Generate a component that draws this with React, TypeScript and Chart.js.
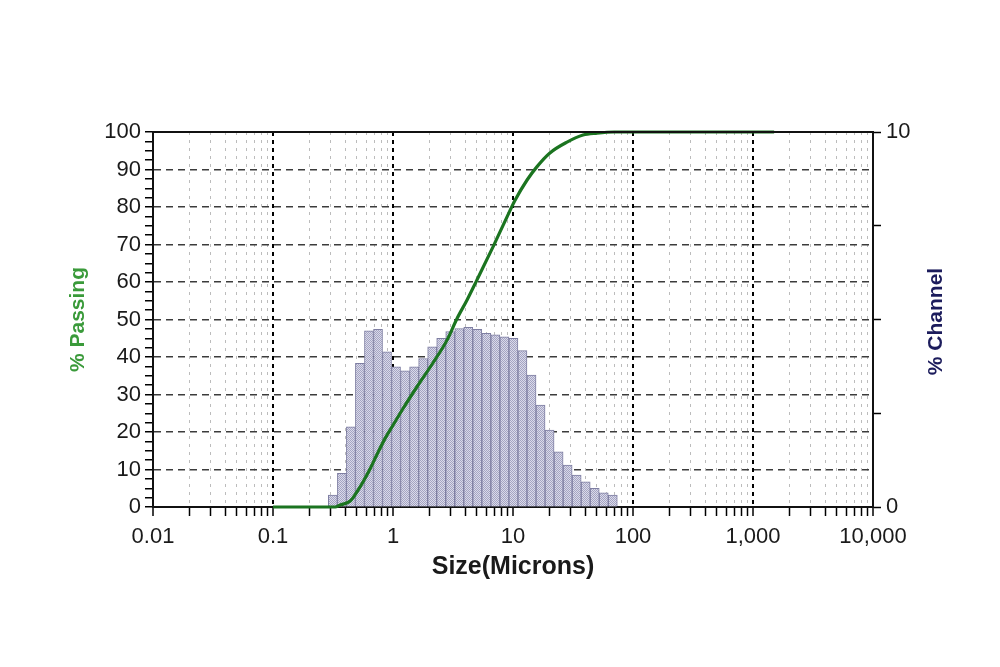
import React, { useEffect, useRef } from 'react';
import { Chart, registerables } from 'chart.js';

Chart.register(...registerables);

// Microtrac channel edges (microns) and % in each channel
const BIN_EDGES = [
  0.289, 0.344, 0.409, 0.486, 0.578, 0.688, 0.818, 0.972, 1.156, 1.375, 1.635,
  1.945, 2.312, 2.75, 3.27, 3.89, 4.62, 5.5, 6.54, 7.78, 9.25, 11.0, 13.08,
  15.56, 18.5, 22.0, 26.16, 31.11, 37.0, 44.0, 52.33, 62.23, 74.0,
];
const CHANNEL_PCT = [
  0.32, 0.9, 2.14, 3.83, 4.7, 4.74, 4.14, 3.74, 3.63, 3.74, 3.96, 4.27, 4.5,
  4.68, 4.76, 4.79, 4.74, 4.63, 4.59, 4.54, 4.5, 4.17, 3.52, 2.72, 2.05, 1.47,
  1.12, 0.85, 0.67, 0.5, 0.38, 0.32,
];

// Cumulative % passing curve
const CURVE_SIZE = [
  0.1, 0.2, 0.33, 0.36, 0.44, 0.5, 0.57, 0.64, 0.73, 0.86, 1.0, 1.21, 1.58,
  2.15, 2.82, 3.41, 4.14, 5.0, 6.8, 8.9, 10.4, 13.1, 15.8, 20.3, 28.2, 38.3,
  50, 70, 1500,
];
const CURVE_PASSING = [
  0, 0, 0, 0.5, 1.6, 4.0, 7.0, 10.0, 13.8, 18.3, 21.8, 26.2, 32, 38.4, 44.5,
  50.2, 55.2, 60.5, 69.3, 77.3, 81.8, 87.2, 90.7, 94.4, 97.3, 99.2, 99.7, 100,
  100,
];

// Axis ticks
const X_DECADES = [0.01, 0.1, 1, 10, 100, 1000, 10000];
const X_DECADE_LABELS = ['0.01', '0.1', '1', '10', '100', '1,000', '10,000'];
const X_MINOR_MULTIPLES = [2, 3, 4, 5, 6, 7, 8, 9];
const Y_LEFT_LABELS = [0, 10, 20, 30, 40, 50, 60, 70, 80, 90, 100];
const Y_LEFT_SUBDIV = 4;
const Y_RIGHT_TICKS = [0, 2.5, 5, 7.5, 10];
const Y_RIGHT_LABELS = ['0', '', '', '', '10'];

const FONT = "'Liberation Sans', Arial, sans-serif";

function makePattern(): CanvasPattern | string {
  const c = document.createElement('canvas');
  c.width = 2;
  c.height = 2;
  const g = c.getContext('2d');
  if (!g) return '#c4c4d8';
  g.fillStyle = '#dadaea';
  g.fillRect(0, 0, 2, 2);
  g.fillStyle = '#a4a4c2';
  g.fillRect(0, 0, 1, 1);
  g.fillRect(1, 1, 1, 1);
  const p = g.createPattern(c, 'repeat');
  return p || '#c4c4d8';
}

const framePlugin = {
  id: 'frame',
  afterDraw(chart: any) {
    const { ctx, chartArea } = chart;
    ctx.save();
    ctx.strokeStyle = '#111';
    ctx.lineWidth = 2;
    ctx.beginPath();
    ctx.moveTo(chartArea.left, chartArea.top);
    ctx.lineTo(chartArea.right, chartArea.top);
    ctx.stroke();
    ctx.translate(936, (chartArea.top + chartArea.bottom) / 2 + 2);
    ctx.rotate(-Math.PI / 2);
    ctx.font = `bold 21px ${FONT}`;
    ctx.fillStyle = '#1c1c5c';
    ctx.textAlign = 'center';
    ctx.textBaseline = 'middle';
    ctx.fillText('% Channel', 0, 0);
    ctx.restore();
  },
};

const isEdgeDecade = (v: number) => v === X_DECADES[0] || v === X_DECADES[X_DECADES.length - 1];

export default function App() {
  const ref = useRef<HTMLCanvasElement>(null);

  useEffect(() => {
    const canvas = ref.current;
    if (!canvas) return;
    const pattern = makePattern();

    const barData = CHANNEL_PCT.map((v, i) => ({
      x: Math.log10(Math.sqrt(BIN_EDGES[i] * BIN_EDGES[i + 1])),
      y: v,
    }));
    const lineData = CURVE_SIZE.map((s, i) => ({ x: s, y: CURVE_PASSING[i] }));

    const leftTicks: number[] = [];
    for (let i = 0; i < Y_LEFT_LABELS.length; i++) {
      leftTicks.push(Y_LEFT_LABELS[i]);
      if (i < Y_LEFT_LABELS.length - 1) {
        const step = (Y_LEFT_LABELS[i + 1] - Y_LEFT_LABELS[i]) / Y_LEFT_SUBDIV;
        for (let k = 1; k < Y_LEFT_SUBDIV; k++) leftTicks.push(Y_LEFT_LABELS[i] + k * step);
      }
    }

    const chart = new Chart(canvas, {
      type: 'bar',
      data: {
        datasets: [
          {
            type: 'line',
            label: '% Passing',
            data: lineData as any,
            xAxisID: 'x',
            yAxisID: 'y',
            borderColor: '#1b7420',
            borderWidth: 3.2,
            pointRadius: 0,
            cubicInterpolationMode: 'monotone',
            clip: 6,
            order: 0,
          } as any,
          {
            type: 'bar',
            label: '% Channel',
            data: barData as any,
            xAxisID: 'xb',
            yAxisID: 'y2',
            backgroundColor: pattern as any,
            borderColor: '#7e7ea2',
            borderWidth: 1,
            barPercentage: 1,
            categoryPercentage: 1,
            grouped: false,
            order: 1,
          } as any,
        ],
      },
      options: {
        responsive: false,
        animation: false,
        datasets: { bar: { barPercentage: 1, categoryPercentage: 1 } },
        layout: { padding: { left: 0, right: 0, top: 132, bottom: 70 } },
        plugins: { legend: { display: false }, tooltip: { enabled: false } },
        scales: {
          x: {
            type: 'logarithmic',
            position: 'bottom',
            offset: false,
            min: 0.01,
            max: 10000,
            afterBuildTicks: (scale: any) => {
              const t: any[] = [];
              X_DECADES.forEach((d, i) => {
                t.push({ value: d, major: true });
                if (i < X_DECADES.length - 1) {
                  X_MINOR_MULTIPLES.forEach((m) => t.push({ value: d * m, major: false }));
                }
              });
              scale.ticks = t;
            },
            afterFit: (scale: any) => {
              scale.height = 90;
            },
            ticks: {
              autoSkip: false,
              maxRotation: 0,
              padding: 8,
              color: '#1a1a1a',
              font: { family: FONT, size: 22 },
              callback: (value: any, index: number, ticks: any[]) => {
                const i = X_DECADES.indexOf(Number(value));
                return ticks[index] && ticks[index].major && i >= 0 ? X_DECADE_LABELS[i] : '';
              },
            },
            grid: {
              offset: false,
              color: (c: any) =>
                c.tick
                  ? isEdgeDecade(c.tick.value)
                    ? 'rgba(0,0,0,0)'
                    : c.tick.major
                    ? '#000'
                    : '#bcbcbc'
                  : '#000',
              lineWidth: (c: any) => (c.tick && c.tick.major ? 2 : 1),
              tickColor: '#000',
              tickWidth: 1.5,
              tickLength: 9,
            },
            border: {
              color: '#111',
              width: 2,
              dash: (c: any) => (c.tick ? (c.tick.major ? [4, 4] : [3, 5]) : []),
            },
            title: {
              display: true,
              text: 'Size(Microns)',
              color: '#1a1a1a',
              font: { family: FONT, size: 25, weight: 'bold' },
              padding: { top: 0, bottom: 15 },
            },
          } as any,
          xb: {
            type: 'linear',
            display: false,
            offset: false,
            grid: { offset: false },
            min: Math.log10(X_DECADES[0]),
            max: Math.log10(X_DECADES[X_DECADES.length - 1]),
          } as any,
          y: {
            type: 'linear',
            position: 'left',
            min: 0,
            max: 100,
            afterBuildTicks: (scale: any) => {
              scale.ticks = leftTicks.map((v) => ({ value: v }));
            },
            afterFit: (scale: any) => {
              scale.width = 153;
            },
            ticks: {
              autoSkip: false,
              padding: 4,
              color: '#1a1a1a',
              font: { family: FONT, size: 22 },
              callback: (value: any) => (Y_LEFT_LABELS.indexOf(Number(value)) >= 0 ? String(value) : ''),
            },
            grid: {
              color: (c: any) =>
                c.tick && Y_LEFT_LABELS.indexOf(c.tick.value) >= 0 ? '#3c3c3c' : 'rgba(0,0,0,0)',
              lineWidth: 1.5,
              tickColor: '#000',
              tickWidth: 1.5,
              tickLength: 8,
            },
            border: {
              color: '#111',
              width: 2,
              dash: (c: any) => (c.tick ? [7, 5] : []),
            },
            title: {
              display: true,
              text: '% Passing',
              color: '#3a9a3a',
              font: { family: FONT, size: 21, weight: 'bold' },
              padding: { top: 66, bottom: 0 },
            },
          } as any,
          y2: {
            type: 'linear',
            position: 'right',
            min: 0,
            max: 10,
            afterBuildTicks: (scale: any) => {
              scale.ticks = Y_RIGHT_TICKS.map((v) => ({ value: v }));
            },
            afterFit: (scale: any) => {
              scale.width = 127;
            },
            ticks: {
              autoSkip: false,
              padding: 5,
              color: '#1a1a1a',
              font: { family: FONT, size: 22 },
              callback: (_v: any, index: number) => Y_RIGHT_LABELS[index],
            },
            grid: {
              drawOnChartArea: false,
              tickColor: '#000',
              tickWidth: 1.5,
              tickLength: 8,
            },
            border: { color: '#111', width: 2 },
          } as any,
        },
      },
      plugins: [framePlugin],
    });

    return () => chart.destroy();
  }, []);

  return (
    <div style={{ position: 'absolute', left: 0, top: 0, width: 1000, height: 667, background: '#fff' }}>
      <canvas ref={ref} width={1000} height={667} style={{ width: 1000, height: 667, display: 'block' }} />
    </div>
  );
}
